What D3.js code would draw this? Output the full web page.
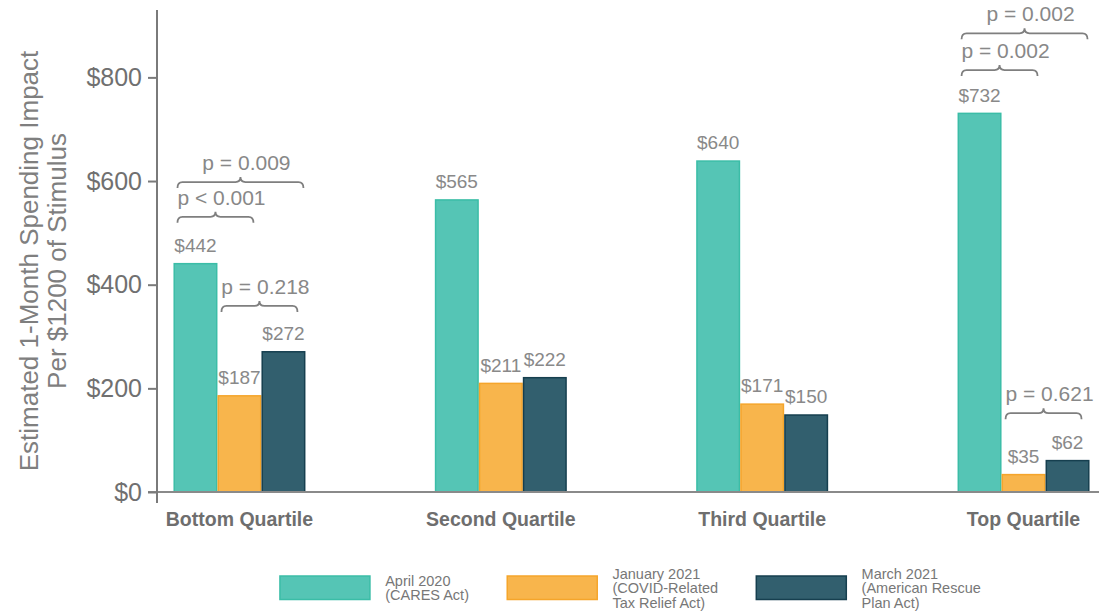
<!DOCTYPE html>
<html>
<head>
<meta charset="utf-8">
<script src="https://cdn.jsdelivr.net/npm/d3@7"></script>
<style>
  html, body { margin: 0; padding: 0; background: #fff; }
  svg { display: block; font-family: "Liberation Sans", Arial, Helvetica, sans-serif; }
</style>
</head>
<body>
<svg id="chart" width="1099" height="611"></svg>
<script>
// ---- data ----
const categories = ["Bottom Quartile", "Second Quartile", "Third Quartile", "Top Quartile"];
const seriesNames = ["April 2020", "January 2021", "March 2021"];
const seriesLegend = [
  ["April 2020", "(CARES Act)"],
  ["January 2021", "(COVID-Related", "Tax Relief Act)"],
  ["March 2021", "(American Rescue", "Plan Act)"]
];
const april2020 = [442, 565, 640, 732];
const january2021 = [187, 211, 171, 35];
const march2021 = [272, 222, 150, 62];
const yTicks = [0, 200, 400, 600, 800];
// significance brackets: category, from-series index, to-series index, level (in $), label
const bracketCats = ["Bottom Quartile", "Bottom Quartile", "Bottom Quartile", "Top Quartile", "Top Quartile", "Top Quartile"];
const bracketFrom = [0, 0, 1, 0, 0, 1];
const bracketTo = [1, 2, 2, 1, 2, 2];
const bracketLevel = [531, 598, 359, 814, 885, 152];
const bracketLabels = ["p < 0.001", "p = 0.009", "p = 0.218", "p = 0.002", "p = 0.002", "p = 0.621"];

const values = [april2020, january2021, march2021];
const fills = ["#55c5b5", "#f8b54c", "#325f6e"];
const strokes = ["#3bbda7", "#f5a52b", "#163f4f"];

const svg = d3.select("#chart");
const axisX = 157, plotTop = 10, baseY = 492, plotRight = 1099;

const y = d3.scaleLinear().domain([0, 930]).range([baseY, plotTop]);
const x = d3.scaleBand().domain(categories).range([157, 1106]).paddingInner(0.495).paddingOuter(0.063);
const xs = d3.scaleBand().domain(d3.range(seriesNames.length)).range([0, x.bandwidth()]);

// bars
seriesNames.forEach((s, si) => {
  const g = svg.append("g");
  g.selectAll("rect").data(categories).join("rect")
    .attr("x", c => x(c) + xs(si) + 0.75)
    .attr("width", xs.bandwidth() - 1.5)
    .attr("y", (c, i) => y(values[si][i]) + 0.75)
    .attr("height", (c, i) => Math.max(0, baseY - y(values[si][i]) - 0.75))
    .attr("fill", fills[si])
    .attr("stroke", strokes[si])
    .attr("stroke-width", 1.5);
  g.selectAll("text").data(categories).join("text")
    .attr("x", c => x(c) + xs(si) + xs.bandwidth() / 2)
    .attr("y", (c, i) => y(values[si][i]) - 11)
    .attr("text-anchor", "middle")
    .attr("font-size", 19)
    .attr("fill", "#898989")
    .text((c, i) => "$" + values[si][i]);
});

// axes lines
svg.append("line").attr("x1", 148).attr("x2", plotRight).attr("y1", baseY).attr("y2", baseY)
  .attr("stroke", "#8a8a8a").attr("stroke-width", 2);
svg.append("line").attr("x1", axisX).attr("x2", axisX).attr("y1", plotTop).attr("y2", 503)
  .attr("stroke", "#7a7a7a").attr("stroke-width", 2);

// y axis ticks
const yAxis = svg.append("g").attr("transform", `translate(${axisX},0)`)
  .call(d3.axisLeft(y).tickValues(yTicks).tickFormat(d => "$" + d).tickSize(9).tickPadding(6));
yAxis.select(".domain").remove();
yAxis.selectAll(".tick line").attr("stroke", "#7a7a7a").attr("stroke-width", 2);
yAxis.selectAll(".tick text").attr("font-size", 25).attr("fill", "#707070")
  .attr("font-family", "Liberation Sans, Arial, sans-serif");

// category labels
svg.append("g").selectAll("text").data(categories).join("text")
  .attr("x", c => x(c) + x.bandwidth() / 2)
  .attr("y", 526)
  .attr("text-anchor", "middle")
  .attr("font-size", 19.5)
  .attr("font-weight", "bold")
  .attr("fill", "#6e6e6e")
  .text(c => c);

// y title
const yt = svg.append("text")
  .attr("transform", "translate(44,261) rotate(-90)")
  .attr("text-anchor", "middle")
  .attr("font-size", 26)
  .attr("fill", "#7f7f7f");
yt.append("tspan").attr("x", 0).attr("dy", "-0.22em").text("Estimated 1-Month Spending Impact");
yt.append("tspan").attr("x", 0).attr("dy", "1.05em").text("Per $1200 of Stimulus");

// brackets
const bg = svg.append("g");
bracketLabels.forEach((lab, k) => {
  const c = bracketCats[k];
  const f = bracketFrom[k], t = bracketTo[k];
  const x0 = x(c) + xs(f) + 4;
  const x1 = x(c) + xs(t) + xs.bandwidth() - (t - f === 1 ? 8 : 2);
  const yy = y(bracketLevel[k]);
  const xm = (x0 + x1) / 2;
  const r = 5;
  const p = `M${x0},${yy + 6} Q${x0},${yy} ${x0 + r},${yy} L${xm - r},${yy} Q${xm},${yy} ${xm},${yy - 5} Q${xm},${yy} ${xm + r},${yy} L${x1 - r},${yy} Q${x1},${yy} ${x1},${yy + 6}`;
  bg.append("path").attr("d", p).attr("fill", "none").attr("stroke", "#7f7f7f").attr("stroke-width", 1.8);
  bg.append("text").attr("x", xm + 6).attr("y", yy - 12)
    .attr("text-anchor", "middle").attr("font-size", 21).attr("fill", "#888")
    .text(lab);
});

// legend
const lg = svg.append("g");
const items = seriesLegend.map((lines, i) => {
  const g = lg.append("g");
  g.append("rect").attr("x", 0.75).attr("y", 576).attr("width", 90).attr("height", 23.5)
    .attr("fill", fills[i]).attr("stroke", strokes[i]).attr("stroke-width", 1.5);
  const t = g.append("text").attr("font-size", 14.5).attr("fill", "#777");
  const lh = 14.5;
  const startY = 588 - (lines.length - 1) * lh / 2 + 5;
  lines.forEach((ln, j) => t.append("tspan").attr("x", 106).attr("y", startY + j * lh).text(ln));
  const w = d3.max(t.selectAll("tspan").nodes(), n => n.getComputedTextLength());
  return { g, w: 106 + w };
});
const gap = 37.5;
const total = d3.sum(items, d => d.w) + gap * (items.length - 1);
let cx = 630 - total / 2;
items.forEach(it => { it.g.attr("transform", `translate(${cx},0)`); cx += it.w + gap; });
</script>
</body>
</html>
